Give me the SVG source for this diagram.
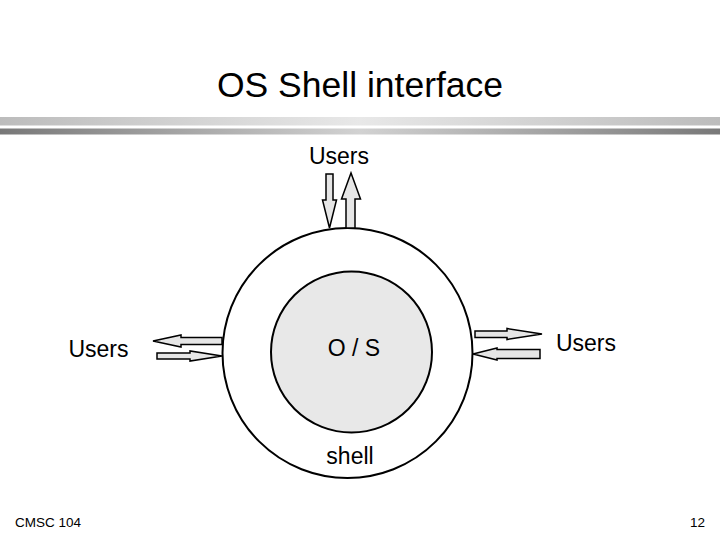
<svg xmlns="http://www.w3.org/2000/svg" width="720" height="540" viewBox="0 0 720 540">
  <defs>
    <linearGradient id="barLight" x1="0" y1="0" x2="1" y2="0">
      <stop offset="0" stop-color="#bcbcbc"/>
      <stop offset="0.5" stop-color="#e8e8e8"/>
      <stop offset="1" stop-color="#bcbcbc"/>
    </linearGradient>
    <linearGradient id="barDark" x1="0" y1="0" x2="1" y2="0">
      <stop offset="0" stop-color="#787878"/>
      <stop offset="0.5" stop-color="#d2d2d2"/>
      <stop offset="1" stop-color="#787878"/>
    </linearGradient>
  </defs>
  <style>
    text { font-family: "Liberation Sans", Arial, sans-serif; fill: #000; }
    .title { font-size: 35.5px; text-anchor: middle; }
    .lbl { font-size: 23px; text-anchor: middle; }
    .foot { font-size: 13.5px; }
    .arrow { fill: #e6e6e6; stroke: #000; stroke-width: 1.5; stroke-linejoin: miter; }
    .ring { fill: #fff; stroke: #000; stroke-width: 2; }
    .core { fill: #e8e8e8; stroke: #000; stroke-width: 2; }
  </style>
  <rect width="720" height="540" fill="#fff"/>

  <g id="title">
    <text class="title" x="360" y="97">OS Shell interface</text>
    <rect x="0" y="117" width="720" height="8.5" fill="url(#barLight)"/>
    <rect x="0" y="128.5" width="720" height="6" fill="url(#barDark)"/>
  </g>

  <g id="shell">
    <circle class="ring" cx="347.5" cy="353" r="125"/>
    <text class="lbl" x="350" y="464">shell</text>
  </g>

  <g id="os">
    <circle class="core" cx="351.5" cy="352" r="80.5"/>
    <text class="lbl" x="354" y="356">O / S</text>
  </g>

  <g id="users-top">
    <text class="lbl" x="339" y="164">Users</text>
  </g>
  <g id="users-left">
    <text class="lbl" x="98.5" y="357">Users</text>
  </g>
  <g id="users-right">
    <text class="lbl" x="586" y="351">Users</text>
  </g>

  <g id="connectors">
    <!-- top: down arrow into shell -->
    <polygon class="arrow" points="326,174 333,174 333,200 336.5,200 329.5,228 322.5,200 326,200"/>
    <!-- top: up arrow out of shell -->
    <polygon class="arrow" points="346,228 355,228 355,199 360.5,199 351,173 341.5,199 346,199"/>
    <!-- left: arrow out to users (pointing left) -->
    <polygon class="arrow" points="222,337.5 181,337.5 181,335 153,341 181,347 181,344.5 222,344.5"/>
    <!-- left: arrow into shell (pointing right) -->
    <polygon class="arrow" points="157,353 190,353 190,351 222,356 190,361 190,359 157,359"/>
    <!-- right: arrow out to users (pointing right) -->
    <polygon class="arrow" points="475,331 507,331 507,328.5 542,334 507,339.5 507,337.5 475,337.5"/>
    <!-- right: arrow into shell (pointing left) -->
    <polygon class="arrow" points="540,349.5 497,349.5 497,348 473,354 497,360 497,358.5 540,358.5"/>
  </g>

  <g id="footer">
    <text class="foot" x="15" y="527">CMSC 104</text>
    <text class="foot" x="705" y="527" text-anchor="end">12</text>
  </g>
</svg>
